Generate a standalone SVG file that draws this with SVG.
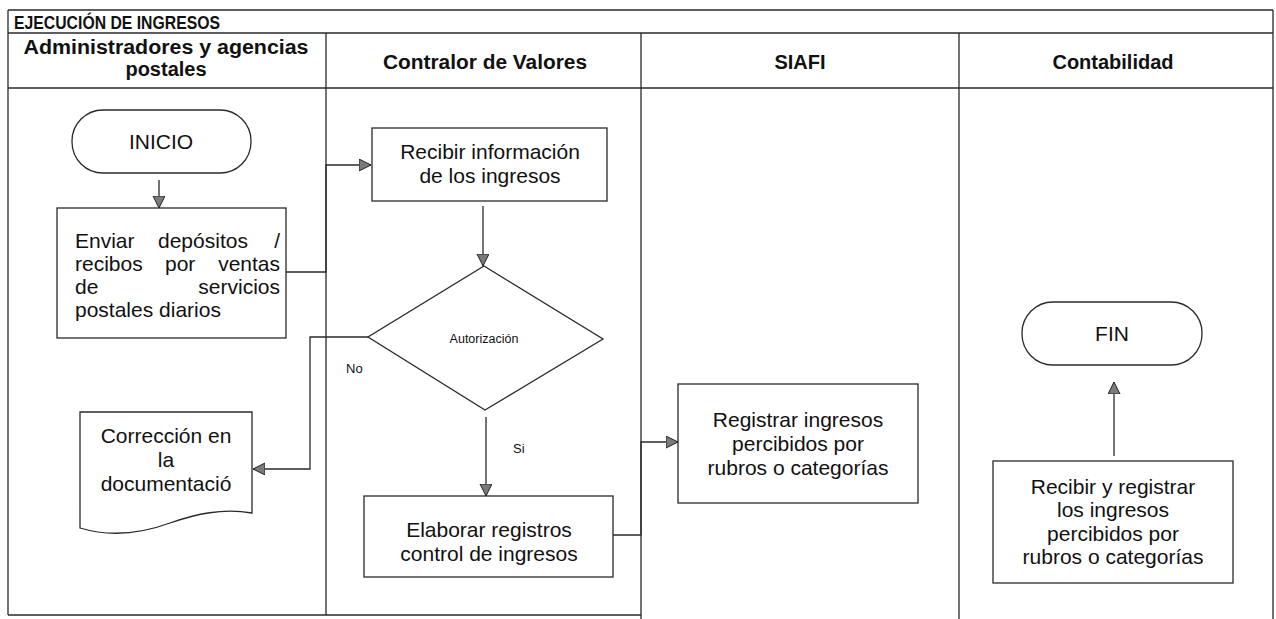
<svg xmlns="http://www.w3.org/2000/svg" width="1276" height="619" viewBox="0 0 1276 619">
<style>
.grid{stroke:#2a2a2a;stroke-width:1.3;fill:none}
.shape{stroke:#2a2a2a;stroke-width:1.3;fill:#fff}
.conn{stroke:#2a2a2a;stroke-width:1.3;fill:none}
.t{font-family:"Liberation Sans",Arial,sans-serif;font-size:21px;fill:#111;text-anchor:middle}
.l{text-anchor:start}
.e{text-anchor:end}
.h{font-family:"Liberation Sans",Arial,sans-serif;font-size:20px;font-weight:bold;fill:#111;text-anchor:middle}
.s{font-family:"Liberation Sans",Arial,sans-serif;font-size:12.5px;fill:#111}
</style>
<defs>
<marker id="arr" markerUnits="userSpaceOnUse" markerWidth="14" markerHeight="14" refX="12" refY="6" orient="auto">
<path d="M0,0 L12,6 L0,12 Z" fill="#7a7a7a" stroke="#222" stroke-width="1"/>
</marker>
</defs>
<rect width="1276" height="619" fill="#fff"/>
<g id="table">
<path class="grid" d="M8,10 H1273 M8,33 H1273 M8,88 H1273 M8,10 V615 M1273,10 V619 M326,33 V615 M641,33 V619 M959,33 V619 M8,615 H641"/>
<text x="14" y="29" class="h" style="text-anchor:start;font-size:19px" textLength="206" lengthAdjust="spacingAndGlyphs">EJECUCIÓN DE INGRESOS</text>
<text x="166" y="54" class="h" textLength="285" lengthAdjust="spacingAndGlyphs">Administradores y agencias</text>
<text x="166" y="76" class="h">postales</text>
<text x="485" y="69" class="h" textLength="204" lengthAdjust="spacingAndGlyphs">Contralor de Valores</text>
<text x="800" y="69" class="h">SIAFI</text>
<text x="1113" y="69" class="h">Contabilidad</text>
</g>
<g id="connectors">
<path class="conn" marker-end="url(#arr)" d="M159,180 V208"/>
<path class="conn" marker-end="url(#arr)" d="M286,272 H326 V165 H371"/>
<path class="conn" marker-end="url(#arr)" d="M483,206 V266"/>
<path class="conn" marker-end="url(#arr)" d="M368,337 H310 V469 H253"/>
<path class="conn" marker-end="url(#arr)" d="M486,417 V496"/>
<path class="conn" marker-end="url(#arr)" d="M613,535 H641 V442 H678"/>
<path class="conn" marker-end="url(#arr)" d="M1114,456 V382"/>
<text x="346" y="373" class="s" style="font-size:13px">No</text>
<text x="513" y="453" class="s" style="font-size:13px">Si</text>
</g>
<g id="inicio">
<rect class="shape" x="72" y="110" width="179" height="63" rx="31" ry="31"/>
<text class="t" x="161" y="149">INICIO</text>
</g>
<g id="enviar">
<rect class="shape" x="57" y="208" width="229" height="130"/>
<text class="t l" x="75" y="248">Enviar</text>
<text class="t l" x="158" y="248">depósitos</text>
<text class="t e" x="280" y="248">/</text>
<text class="t l" x="75" y="271">recibos</text>
<text class="t l" x="165" y="271">por</text>
<text class="t e" x="280" y="271">ventas</text>
<text class="t l" x="75" y="294">de</text>
<text class="t e" x="280" y="294">servicios</text>
<text class="t l" x="75" y="317">postales diarios</text>
</g>
<g id="recibir">
<rect class="shape" x="372" y="128" width="235" height="73"/>
<text class="t" x="490" y="159">Recibir información</text>
<text class="t" x="490" y="183">de los ingresos</text>
</g>
<g id="autorizacion">
<polygon class="shape" points="484,266 603,339 485,410 368,337"/>
<text class="s" x="484" y="343" style="text-anchor:middle">Autorización</text>
</g>
<g id="correccion">
<path class="shape" d="M80,412 H252 V513 C222,508 196,514 170,523 C140,534 110,537 80,528 Z"/>
<text class="t" x="166" y="443">Corrección en</text>
<text class="t" x="166" y="467">la</text>
<text class="t" x="166" y="491">documentació</text>
</g>
<g id="elaborar">
<rect class="shape" x="364" y="496" width="249" height="81"/>
<text class="t" x="489" y="537">Elaborar registros</text>
<text class="t" x="489" y="561">control de ingresos</text>
</g>
<g id="registrar">
<rect class="shape" x="678" y="384" width="240" height="119"/>
<text class="t" x="798" y="427">Registrar ingresos</text>
<text class="t" x="798" y="451">percibidos por</text>
<text class="t" x="798" y="475">rubros o categorías</text>
</g>
<g id="fin">
<rect class="shape" x="1022" y="302" width="180" height="63" rx="31" ry="31"/>
<text class="t" x="1112" y="341">FIN</text>
</g>
<g id="recibir-registrar">
<rect class="shape" x="993" y="461" width="240" height="122"/>
<text class="t" x="1113" y="494">Recibir y registrar</text>
<text class="t" x="1113" y="517">los ingresos</text>
<text class="t" x="1113" y="541">percibidos por</text>
<text class="t" x="1113" y="564">rubros o categorías</text>
</g>
</svg>
